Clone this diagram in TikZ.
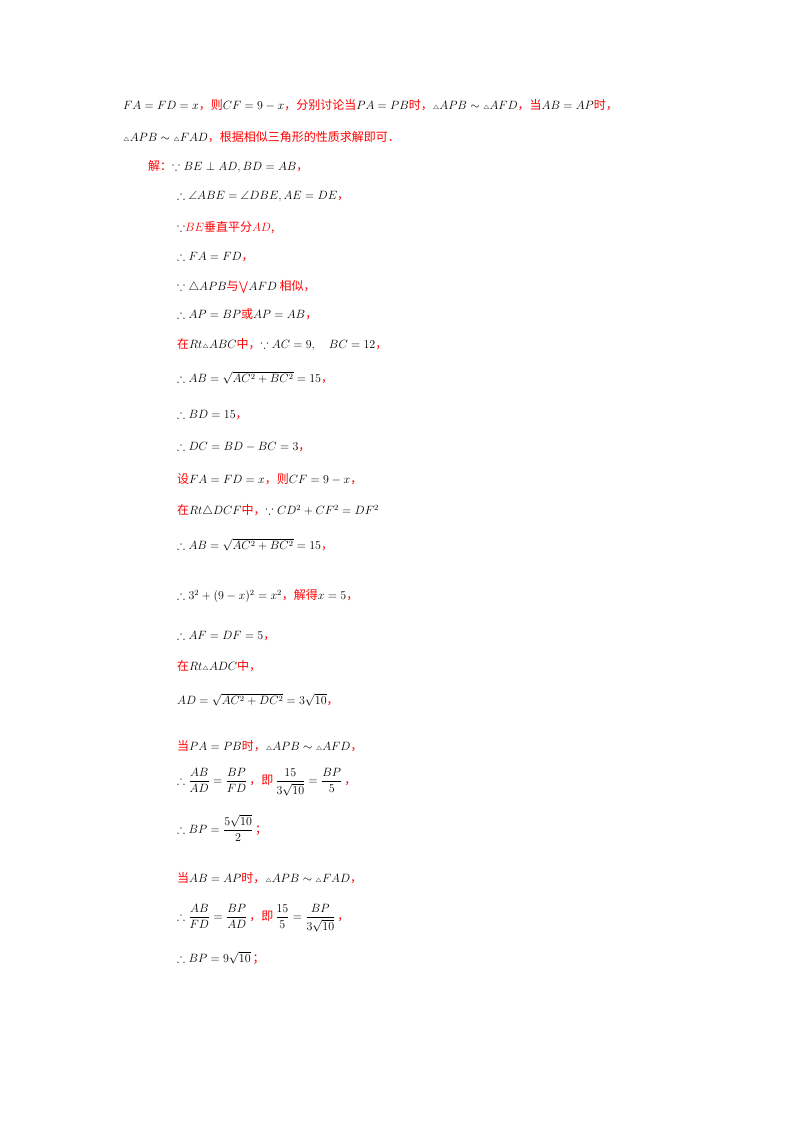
\documentclass[tikz,border=0pt]{standalone}
\usepackage{amsmath,amssymb}
\usepackage{fontspec}
\newfontfamily\cjk{Noto Sans CJK SC}
\newcommand{\R}[1]{\textcolor{red}{\cjk #1}}
\newcommand{\tri}{{\scriptscriptstyle\triangle}}
\begin{document}
\begin{tikzpicture}[x=1pt,y=-1pt,t/.style={anchor=west,inner sep=0pt,font=\fontsize{12}{14}\selectfont}]
\useasboundingbox (0,0) rectangle (800,1132);
\node[t] (l1) at (123,105) {$FA=FD=x$\R{，则}$CF=9-x$\R{，分别讨论当}$PA=PB$\R{时，}$\tri APB\sim\tri AFD$\R{，当}$AB=AP$\R{时，}};
\node[t] (l2) at (123,137) {$\tri APB\sim\tri FAD$\R{，根据相似三角形的性质求解即可．}};
\node[t] (l3) at (148,167) {\R{解：}$\because BE\perp AD, BD=AB$\R{，}};
\node[t] (l4) at (177,197) {$\therefore \angle ABE=\angle DBE, AE=DE$\R{，}};
\node[t] (l5) at (177,228) {$\because$\textcolor{red}{$BE$\cjk 垂直平分$AD$,}};
\node[t] (l6) at (177,257) {$\therefore FA=FD$\R{，}};
\node[t] (l7) at (177,287) {$\because \triangle APB$\R{与}\textcolor{red}{$\bigvee$}$AFD$\R{ 相似，}};
\node[t] (l8) at (177,314) {$\therefore AP=BP$\R{或}$AP=AB$\R{，}};
\node[t] (l9) at (177,345) {\R{在}$Rt\tri ABC$\R{中，}$\because AC=9,\quad BC=12$\R{，}};
\node[t] (l10) at (177,378) {$\therefore AB=\sqrt{AC^2+BC^2}=15$\R{，}};
\node[t] (l11) at (177,415) {$\therefore BD=15$\R{，}};
\node[t] (l12) at (177,447) {$\therefore DC=BD-BC=3$\R{，}};
\node[t] (l13) at (177,479) {\R{设}$FA=FD=x$\R{，则}$CF=9-x$\R{，}};
\node[t] (l14) at (177,511) {\R{在}$Rt\triangle DCF$\R{中，}$\because CD^2+CF^2=DF^2$};
\node[t] (l15) at (177,545) {$\therefore AB=\sqrt{AC^2+BC^2}=15$\R{，}};
\node[t] (l16) at (177,596) {$\therefore 3^2+(9-x)^2=x^2$\R{，解得}$x=5$\R{，}};
\node[t] (l17) at (177,636) {$\therefore AF=DF=5$\R{，}};
\node[t] (l18) at (177,666) {\R{在}$Rt\tri ADC$\R{中，}};
\node[t] (l19) at (177,700) {$AD=\sqrt{AC^2+DC^2}=3\sqrt{10}$\R{，}};
\node[t] (l20) at (177,746) {\R{当}$PA=PB$\R{时，}$\tri APB\sim\tri AFD$\R{，}};
\node[t] (l21) at (177,782) {$\therefore \dfrac{AB}{AD}=\dfrac{BP}{FD}$\,\R{，即}\,$\dfrac{15}{3\sqrt{10}}=\dfrac{BP}{5}$\,\R{，}};
\node[t] (l22) at (177,828) {$\therefore BP=\dfrac{5\sqrt{10}}{2}$\,\R{；}};
\node[t] (l23) at (177,878) {\R{当}$AB=AP$\R{时，}$\tri APB\sim\tri FAD$\R{，}};
\node[t] (l24) at (177,918) {$\therefore \dfrac{AB}{FD}=\dfrac{BP}{AD}$\,\R{，即}\,$\dfrac{15}{5}=\dfrac{BP}{3\sqrt{10}}$\,\R{，}};
\node[t] (l25) at (177,958) {$\therefore BP=9\sqrt{10}$\,\R{；}};
\end{tikzpicture}
\end{document}
